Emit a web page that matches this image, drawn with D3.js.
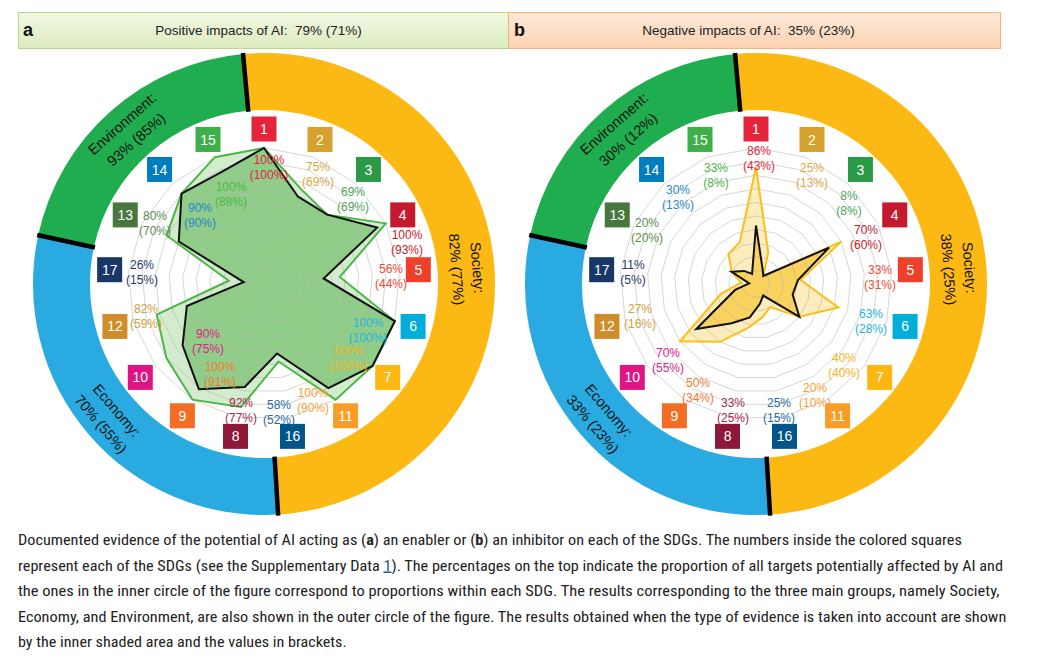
<!DOCTYPE html>
<html><head><meta charset="utf-8">
<script src="https://cdn.jsdelivr.net/npm/d3@7"></script>
<style>body{margin:0;background:#fff} svg{display:block}</style>
</head><body>
<svg id="c" width="1044" height="661"></svg>
<script>
// ---------- DATA ----------
const sdgOrder = [1,2,3,4,5,6,7,11,16,8,9,10,12,17,13,14,15];
const positiveValues   = [100,75,69,100,56,100,100,100,58,92,100,90,82,26,80,90,100];
const positiveBrackets = [100,69,69,93,44,100,100,90,52,77,91,75,59,15,70,90,88];
const negativeValues   = [86,25,8,70,33,63,40,20,25,33,50,70,27,11,20,30,33];
const negativeBrackets = [43,13,8,60,31,28,40,10,15,25,34,55,16,5,20,13,8];
const groupNames = ["Society:","Economy:","Environment:"];
const positiveGroups = ["82% (77%)","70% (55%)","93% (85%)"];
const negativeGroups = ["38% (25%)","33% (23%)","30% (12%)"];
const panelLetters = ["a","b"];
const panelTitles = ["Positive impacts of AI:  79% (71%)","Negative impacts of AI:  35% (23%)"];
const gridTicks = [10,20,30,40,50,60,70,80,90,100];

// ---------- LAYOUT / STYLE ----------
const sdgColors = {1:"#e5243b",2:"#d6a12c",3:"#2b9a47",4:"#c5192d",5:"#ef402b",6:"#00aed9",7:"#fdb713",
  8:"#8f1838",9:"#f36d25",10:"#e11484",11:"#f99d26",12:"#cf8d2a",13:"#48773e",14:"#007dbc",15:"#3eb049",16:"#02558b",17:"#183668"};
const labelColors = {1:"#e5243b",2:"#dba845",3:"#4fa35a",4:"#c5192d",5:"#ef4a35",6:"#26b5e0",7:"#f5b522",
  8:"#a32b4f",9:"#f37a30",10:"#e0218a",11:"#f9a035",12:"#d39c3c",13:"#5e8a4e",14:"#2b87cc",15:"#4db848",16:"#2a6aa0",17:"#27386c"};
const labelOffA = [[5,-117],[54,-110],[89,-85],[143,-42],[127,-8],[104,46],[84,74],[49,116],[15,128],[-23,126],[-44,90],[-56,57],[-118,32],[-122,-12],[-109,-61],[-64,-69],[-33,-90]];
const labelOffB = [[3,-126],[56,-109],[93,-81],[110,-47],[124,-7],[115,37],[88,81],[59,111],[23,126],[-23,126],[-58,106],[-88,76],[-116,32],[-123,-12],[-109,-54],[-78,-87],[-40,-109]];
const groupAngles = [[-5.2,176.5],[176.5,282.2],[282.2,354.8]];
const groupColors = ["#fdb913","#29abe2","#1fad4f"];
const R_IN = 174, R_OUT = 231, R_SQ = 155, R_MID = 204;

const svg = d3.select("#c");
svg.append("rect").attr("width",1044).attr("height",661).attr("fill","#fff");
const defs = svg.append("defs");
function grad(id, c1, c2){
  const lg = defs.append("linearGradient").attr("id",id).attr("x1",0).attr("y1",0).attr("x2",0).attr("y2",1);
  lg.append("stop").attr("offset","0%").attr("stop-color",c1);
  lg.append("stop").attr("offset","100%").attr("stop-color",c2);
}
grad("ga","#f2f7e4","#dcecbf");
grad("gb","#fdeadb","#fbd2b0");

const N = sdgOrder.length;
const ang = d3.scaleLinear().domain([0, N]).range([0, 2*Math.PI]);
const rad = d3.scaleLinear().domain([0, 100]).range([0, 136]);
const toRad = d => d*Math.PI/180;
const font = "'Liberation Sans', Arial, Helvetica, sans-serif";

// headers
const headers = [
  {x:18.5, w:490, fill:"url(#ga)", stroke:"#b7d88a", tx:258.5, lx:23},
  {x:508.5, w:492, fill:"url(#gb)", stroke:"#f6b27c", tx:748.5, lx:514}
];
headers.forEach((h,i)=>{
  svg.append("rect").attr("x",h.x).attr("y",12.5).attr("width",h.w).attr("height",36)
    .attr("fill",h.fill).attr("stroke",h.stroke).attr("stroke-width",1);
  svg.append("text").attr("x",h.lx).attr("y",36).attr("font-family",font).attr("font-weight","bold")
    .attr("font-size",18).attr("fill","#111").text(panelLetters[i]);
  svg.append("text").attr("x",h.tx).attr("y",35).attr("text-anchor","middle").attr("font-family",font)
    .attr("font-size",13.5).attr("fill","#222").style("white-space","pre").text(panelTitles[i]);
});

function panel(cx, cy, cfg){
  const g = svg.append("g").attr("transform",`translate(${cx},${cy})`);
  const arc = d3.arc().innerRadius(R_IN).outerRadius(R_OUT);
  groupAngles.forEach((a,i)=>{
    g.append("path").attr("d", arc({startAngle:toRad(a[0]), endAngle:toRad(a[1])})).attr("fill",groupColors[i]);
  });
  groupAngles.forEach(a=>{
    const t = toRad(a[0]);
    g.append("line").attr("x1",Math.sin(t)*(R_IN-1)).attr("y1",-Math.cos(t)*(R_IN-1))
      .attr("x2",Math.sin(t)*(R_OUT+1)).attr("y2",-Math.cos(t)*(R_OUT+1))
      .attr("stroke","#000").attr("stroke-width",4.5);
  });
  // ring labels
  groupAngles.forEach((a,i)=>{
    const m = (a[0]+a[1])/2;
    const bottom = m > 120 && m < 300;
    const rot = bottom ? m-180 : m;
    const tg = g.append("g").attr("transform",`rotate(${rot}) translate(0,${bottom?R_MID:-R_MID})`);
    [groupNames[i], cfg.groups[i]].forEach((s,k)=>{
      tg.append("text").attr("x",0).attr("y", k===0?-10:11).attr("dy","0.35em").attr("text-anchor","middle")
        .attr("font-family",font).attr("font-size",14.5).attr("fill","#111").text(s);
    });
  });
  const line = d3.lineRadial().angle((d,i)=>ang(i)).radius(d=>rad(d)).curve(d3.curveLinearClosed);
  g.append("path").attr("d",line(cfg.values)).attr("fill",cfg.outerFill);
  g.append("path").attr("d",line(cfg.brackets)).attr("fill",cfg.innerFill);
  gridTicks.forEach(t=>{
    g.append("path").attr("d",line(sdgOrder.map(()=>t))).attr("fill","none")
      .attr("stroke","#b0b0b0").attr("stroke-opacity",0.65).attr("stroke-width",0.8);
  });
  g.append("path").attr("d",line(cfg.values)).attr("fill","none").attr("stroke",cfg.outerStroke).attr("stroke-width",2).attr("stroke-linejoin","miter");
  g.append("path").attr("d",line(cfg.brackets)).attr("fill","none").attr("stroke","#111").attr("stroke-width",2).attr("stroke-linejoin","miter");
  // squares
  sdgOrder.forEach((s,i)=>{
    const t = ang(i), x = Math.sin(t)*R_SQ, y = -Math.cos(t)*R_SQ;
    g.append("rect").attr("x",x-12.5).attr("y",y-12.5).attr("width",25).attr("height",25).attr("fill",sdgColors[s]);
    g.append("text").attr("x",x).attr("y",y).attr("dy","0.36em").attr("text-anchor","middle")
      .attr("font-family",font).attr("font-size",14).attr("fill","#fff").text(s);
    const o = cfg.labelOff[i];
    g.append("text").attr("x",o[0]).attr("y",o[1]-7).attr("dy","0.35em").attr("text-anchor","middle")
      .attr("font-family",font).attr("font-size",12).attr("fill",labelColors[s]).text(cfg.values[i]+"%");
    g.append("text").attr("x",o[0]).attr("y",o[1]+7.5).attr("dy","0.35em").attr("text-anchor","middle")
      .attr("font-family",font).attr("font-size",12).attr("fill",labelColors[s]).text("("+cfg.brackets[i]+"%)");
  });
}

panel(264, 284, {values:positiveValues, brackets:positiveBrackets, groups:positiveGroups,
  outerFill:"rgba(196,230,190,0.75)", innerFill:"rgba(120,195,112,0.75)", outerStroke:"#4cb748", labelOff:labelOffA});
panel(756, 284, {values:negativeValues, brackets:negativeBrackets, groups:negativeGroups,
  outerFill:"rgba(252,230,160,0.7)", innerFill:"rgba(248,204,70,0.8)", outerStroke:"#f9c01c", labelOff:labelOffB});

// caption
const capFont = "'Liberation Sans Narrow','Roboto Condensed','DejaVu Sans Condensed', Lato, sans-serif";
const caption = [
  {w:945, parts:[["Documented evidence of the potential of AI acting as ("],["a","b"],[") an enabler or ("],["b","b"],[") an inhibitor on each of the SDGs. The numbers inside the colored squares"]]},
  {w:985, parts:[["represent each of the SDGs (see the Supplementary Data "],["1","u"],["). The percentages on the top indicate the proportion of all targets potentially affected by AI and"]]},
  {w:982, parts:[["the ones in the inner circle of the figure correspond to proportions within each SDG. The results corresponding to the three main groups, namely Society,"]]},
  {w:989, parts:[["Economy, and Environment, are also shown in the outer circle of the figure. The results obtained when the type of evidence is taken into account are shown"]]},
  {w:329, parts:[["by the inner shaded area and the values in brackets."]]}
];
const capBase = [545, 570.5, 596, 621.5, 647];
caption.forEach((c,i)=>{
  const cg = svg.append("g").attr("transform",`translate(18,${capBase[i]})`);
  const t = cg.append("text").attr("x",0).attr("y",0).attr("font-family",capFont).attr("font-size",15).attr("fill","#222").style("white-space","pre");
  c.parts.forEach(p=>{
    const ts = t.append("tspan").text(p[0]);
    if(p[1]==="b") ts.attr("font-weight","bold");
    if(p[1]==="u") ts.attr("fill","#1a5a8a").attr("text-decoration","underline");
  });
  const w = t.node().getComputedTextLength();
  cg.attr("transform",`translate(18,${capBase[i]}) scale(${c.w/w},1)`);
});
</script></body></html>
